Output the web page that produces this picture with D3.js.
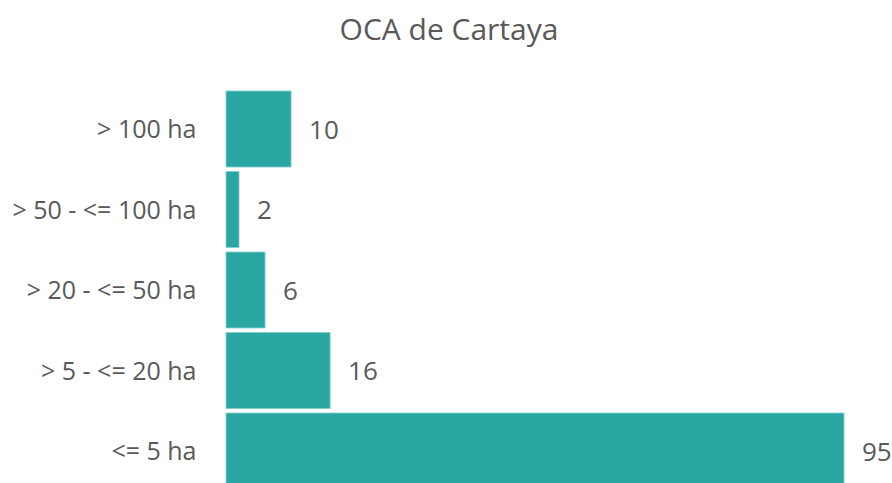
<!DOCTYPE html>
<html><head><meta charset="utf-8">
<script src="https://cdn.jsdelivr.net/npm/d3@7"></script>
<style>html,body{margin:0;padding:0;background:#fff;overflow:hidden}</style>
</head><body>
<svg id="chart" width="892" height="483"></svg>
<script>
const title = "OCA de Cartaya";
const categories = ["> 100 ha", "> 50 - <= 100 ha", "> 20 - <= 50 ha", "> 5 - <= 20 ha", "<= 5 ha"];
const values = [10, 2, 6, 16, 95];

const svg = d3.select("#chart");
const font = "'Open Sans', 'Noto Sans', sans-serif";
const textColor = "#595959";
const barColor = "#2BA7A3";

const x = d3.scaleLinear().domain([0, 95]).range([226, 844]);
const y = d3.scaleBand().domain(categories).range([88.75, 491.25]).paddingInner(0.056).paddingOuter(0.028);

svg.append("text")
  .attr("x", 449).attr("y", 40)
  .attr("text-anchor", "middle")
  .attr("font-family", font).attr("font-size", 30)
  .attr("fill", textColor)
  .text(title);

svg.append("g").selectAll("rect").data(values).join("rect")
  .attr("x", x(0))
  .attr("y", (d, i) => y(categories[i]))
  .attr("width", d => x(d) - x(0))
  .attr("height", y.bandwidth())
  .attr("fill", barColor)
  .attr("stroke", "#7fd0cc").attr("stroke-width", 0.8);

const yAxis = svg.append("g").attr("transform", `translate(${x(0)},0)`)
  .call(d3.axisLeft(y).tickSize(0).tickPadding(29.5));
yAxis.select(".domain").remove();
yAxis.selectAll("text")
  .attr("font-family", font).attr("font-size", 25)
  .attr("fill", textColor).attr("dy", null)
  .attr("y", 9.4);

svg.append("g").selectAll("text").data(values).join("text")
  .attr("x", d => x(d) + 18)
  .attr("y", (d, i) => y(categories[i]) + y.bandwidth() / 2 + 9.6)
  .attr("font-family", font).attr("font-size", 26)
  .attr("fill", textColor)
  .text(d => d);
</script>
</body></html>
